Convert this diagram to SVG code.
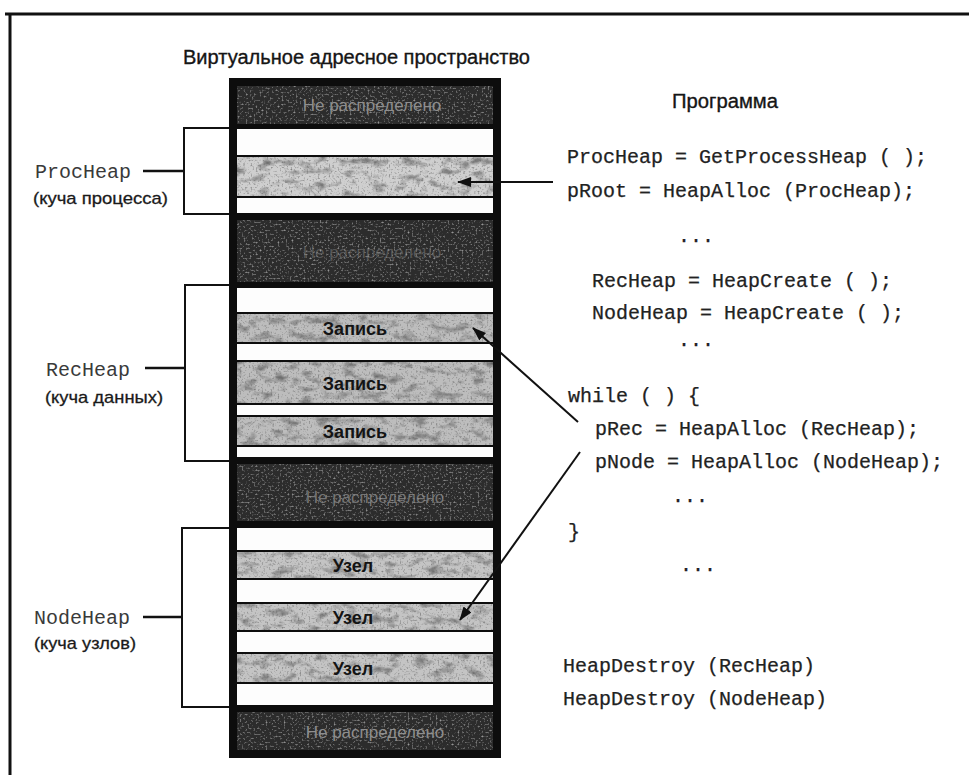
<svg xmlns="http://www.w3.org/2000/svg" width="969" height="775" viewBox="0 0 969 775">
  <defs>
    <style>
      .frame { stroke: #111; fill: none; }
      .band-white { fill: #fdfdfd; }
      .band-free { fill: #2c2c2c; }
      .band-proc { fill: #cfcfcf; }
      .band-rec { fill: #bdbdbd; }
      .band-node { fill: #c4c4c4; }
      .free-text { font-family: "Liberation Sans", Arial, sans-serif; font-size: 17px; fill: #8e8e8e; text-anchor: middle; }
      .item-text { font-family: "Liberation Sans", Arial, sans-serif; font-size: 18px; font-weight: bold; fill: #141414; text-anchor: middle; }
      .title { font-family: "Liberation Sans", Arial, sans-serif; font-size: 20px; fill: #151515; stroke: #151515; stroke-width: 0.35; }
      .code { font-family: "Liberation Mono", "Courier New", monospace; font-size: 20px; fill: #222; stroke: #222; stroke-width: 0.25; white-space: pre; }
      .heap-name { font-family: "Liberation Mono", "Courier New", monospace; font-size: 20px; fill: #3a3a3a; }
      .heap-desc { font-family: "Liberation Sans", Arial, sans-serif; font-size: 17px; fill: #1a1a1a; stroke: #1a1a1a; stroke-width: 0.3; }
      .bracket { fill: none; stroke: #111; stroke-width: 2; }
      .leader { fill: none; stroke: #111; stroke-width: 2.5; }
      .arrow { fill: none; stroke: #111; stroke-width: 2; marker-end: url(#head); }
    </style>
    <marker id="head" markerUnits="userSpaceOnUse" markerWidth="14" markerHeight="10" refX="13" refY="5" orient="auto">
      <path d="M0,0 L14,5 L0,10 Z" fill="#111"/>
    </marker>
    <!-- mottled print texture for the allocated (light) blocks -->
    <filter id="grainLight" x="0" y="0" width="1" height="1" color-interpolation-filters="sRGB">
      <feTurbulence type="fractalNoise" baseFrequency="0.07 0.12" numOctaves="3" seed="7" result="coarse"/>
      <feColorMatrix in="coarse" type="matrix" values="0 0 0 0 0.35  0 0 0 0 0.35  0 0 0 0 0.35  -2 0 0 0 1.02" result="blots"/>
      <feTurbulence type="fractalNoise" baseFrequency="0.55" numOctaves="1" seed="3" result="fine"/>
      <feColorMatrix in="fine" type="matrix" values="0 0 0 0 0.4  0 0 0 0 0.4  0 0 0 0 0.4  -2.5 0 0 0 1.15" result="specks"/>
      <feMerge result="tex"><feMergeNode in="blots"/><feMergeNode in="specks"/></feMerge>
      <feGaussianBlur in="tex" stdDeviation="0.6" result="soft"/>
      <feComposite in="soft" in2="SourceGraphic" operator="atop"/>
    </filter>
    <!-- speckled texture for the unallocated (dark) blocks -->
    <filter id="grainDark" x="0" y="0" width="1" height="1" color-interpolation-filters="sRGB">
      <feTurbulence type="fractalNoise" baseFrequency="0.5" numOctaves="2" seed="11" result="fine"/>
      <feColorMatrix in="fine" type="matrix" values="0 0 0 0 0.7  0 0 0 0 0.7  0 0 0 0 0.7  2.6 0 0 0 -1.4" result="specks"/>
      <feGaussianBlur in="specks" stdDeviation="0.5" result="soft"/>
      <feComposite in="soft" in2="SourceGraphic" operator="atop"/>
    </filter>
  </defs>

  <rect x="0" y="0" width="969" height="775" fill="#ffffff"/>

  <!-- page frame -->
  <g id="page-frame">
    <line class="frame" x1="5" y1="14" x2="969" y2="14" stroke-width="3"/>
    <line class="frame" x1="10" y1="14" x2="10" y2="775" stroke-width="3"/>
  </g>

  <!-- headings -->
  <g id="title-address-space">
    <text class="title" x="183" y="64" textLength="347" lengthAdjust="spacingAndGlyphs">Виртуальное адресное пространство</text>
  </g>
  <g id="title-program">
    <text class="title" x="672" y="108" textLength="106" lengthAdjust="spacingAndGlyphs">Программа</text>
  </g>

  <!-- virtual address space column -->
  <g id="address-space">
    <rect x="229" y="78" width="272" height="680" fill="#0d0d0d"/>

    <g id="free-1">
      <rect class="band-free" x="237" y="86" width="256" height="38" filter="url(#grainDark)"/>
      <text class="free-text" x="372" y="111">Не распределено</text>
    </g>
    <rect class="band-white" x="237" y="129" width="256" height="26"/>
    <g id="proc-block">
      <rect class="band-proc" x="237" y="157" width="256" height="39" filter="url(#grainLight)"/>
    </g>
    <rect class="band-white" x="237" y="198" width="256" height="15"/>

    <g id="free-2">
      <rect class="band-free" x="237" y="220" width="256" height="62" filter="url(#grainDark)"/>
      <text class="free-text" x="372" y="258" fill-opacity="0.45">Не распределено</text>
    </g>

    <rect class="band-white" x="237" y="288" width="256" height="24"/>
    <g id="rec-1">
      <rect class="band-rec" x="237" y="314" width="256" height="28" filter="url(#grainLight)"/>
      <text class="item-text" x="355" y="335">Запись</text>
    </g>
    <rect class="band-white" x="237" y="344" width="256" height="16"/>
    <g id="rec-2">
      <rect class="band-rec" x="237" y="362" width="256" height="41" filter="url(#grainLight)"/>
      <text class="item-text" x="355" y="390">Запись</text>
    </g>
    <rect class="band-white" x="237" y="405" width="256" height="10"/>
    <g id="rec-3">
      <rect class="band-rec" x="237" y="417" width="256" height="28" filter="url(#grainLight)"/>
      <text class="item-text" x="355" y="438">Запись</text>
    </g>
    <rect class="band-white" x="237" y="447" width="256" height="10"/>

    <g id="free-3">
      <rect class="band-free" x="237" y="464" width="256" height="57" filter="url(#grainDark)"/>
      <text class="free-text" x="375" y="503" fill-opacity="0.75">Не распределено</text>
    </g>

    <rect class="band-white" x="237" y="528" width="256" height="22"/>
    <g id="node-1">
      <rect class="band-node" x="237" y="552" width="256" height="26" filter="url(#grainLight)"/>
      <text class="item-text" x="353" y="572">Узел</text>
    </g>
    <rect class="band-white" x="237" y="580" width="256" height="22"/>
    <g id="node-2">
      <rect class="band-node" x="237" y="604" width="256" height="26" filter="url(#grainLight)"/>
      <text class="item-text" x="353" y="624">Узел</text>
    </g>
    <rect class="band-white" x="237" y="632" width="256" height="20"/>
    <g id="node-3">
      <rect class="band-node" x="237" y="654" width="256" height="28" filter="url(#grainLight)"/>
      <text class="item-text" x="353" y="675">Узел</text>
    </g>
    <rect class="band-white" x="237" y="684" width="256" height="21"/>

    <g id="free-4">
      <rect class="band-free" x="237" y="712" width="256" height="38" filter="url(#grainDark)"/>
      <text class="free-text" x="375" y="738">Не распределено</text>
    </g>
  </g>

  <!-- heap labels -->
  <g id="label-procheap">
    <text class="heap-name" x="35" y="178">ProcHeap</text>
    <text class="heap-desc" x="33" y="204" textLength="135" lengthAdjust="spacingAndGlyphs">(куча процесса)</text>
  </g>
  <g id="label-recheap">
    <text class="heap-name" x="46" y="376">RecHeap</text>
    <text class="heap-desc" x="45" y="403" textLength="118" lengthAdjust="spacingAndGlyphs">(куча данных)</text>
  </g>
  <g id="label-nodeheap">
    <text class="heap-name" x="34" y="624">NodeHeap</text>
    <text class="heap-desc" x="34" y="649" textLength="102" lengthAdjust="spacingAndGlyphs">(куча узлов)</text>
  </g>

  <!-- program listing -->
  <g id="program">
    <text class="code" x="567" y="163">ProcHeap = GetProcessHeap ( );</text>
    <text class="code" x="567" y="197">pRoot = HeapAlloc (ProcHeap);</text>
    <text class="code" x="678" y="242">...</text>
    <text class="code" x="592" y="287">RecHeap = HeapCreate ( );</text>
    <text class="code" x="592" y="319">NodeHeap = HeapCreate ( );</text>
    <text class="code" x="678" y="346">...</text>
    <text class="code" x="568" y="402">while ( ) {</text>
    <text class="code" x="595" y="435">pRec = HeapAlloc (RecHeap);</text>
    <text class="code" x="595" y="468">pNode = HeapAlloc (NodeHeap);</text>
    <text class="code" x="672" y="502">...</text>
    <text class="code" x="568" y="538">}</text>
    <text class="code" x="680" y="571">...</text>
    <text class="code" x="563" y="672">HeapDestroy (RecHeap)</text>
    <text class="code" x="563" y="705">HeapDestroy (NodeHeap)</text>
  </g>

  <!-- brackets, leaders and allocation arrows -->
  <g id="connectors">
    <path class="bracket" d="M229,128 H184 V214 H229"/>
    <path class="bracket" d="M229,285 H185 V461 H229"/>
    <path class="bracket" d="M229,528 H182 V707 H229"/>
    <line class="leader" x1="143" y1="171" x2="184" y2="171"/>
    <line class="leader" x1="145" y1="368" x2="185" y2="368"/>
    <line class="leader" x1="143" y1="617" x2="182" y2="617"/>
    <line class="arrow" x1="553" y1="182" x2="458" y2="182"/>
    <line class="arrow" x1="578" y1="422" x2="473" y2="328"/>
    <line class="arrow" x1="580" y1="452" x2="460" y2="620"/>
  </g>
</svg>
